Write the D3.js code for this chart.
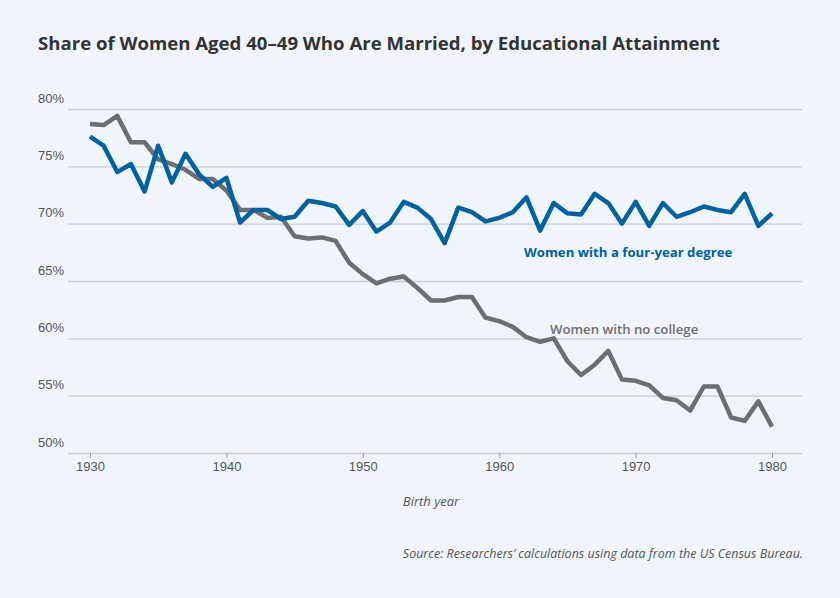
<!DOCTYPE html><html><head><meta charset="utf-8">
<script src="https://cdn.jsdelivr.net/npm/d3@7"></script>
<style>body{margin:0;background:#eff5fb}svg{font-family:"Source Sans Pro","Open Sans",Lato,sans-serif}</style></head><body>
<svg id="c" width="840" height="598"></svg>
<script>
const years = d3.range(1930, 1981);
const noCollege = [78.7,78.6,79.4,77.1,77.1,75.6,75.2,74.7,73.9,73.9,72.9,71.2,71.2,70.5,70.6,68.9,68.7,68.8,68.5,66.6,65.6,64.8,65.2,65.4,64.4,63.3,63.3,63.6,63.6,61.8,61.5,61.0,60.1,59.7,60.0,58.0,56.8,57.7,58.9,56.4,56.3,55.9,54.8,54.6,53.7,55.8,55.8,53.1,52.8,54.5,52.3];
const fourYear = [77.6,76.8,74.5,75.2,72.8,76.8,73.6,76.1,74.3,73.2,74.0,70.1,71.2,71.2,70.4,70.6,72.0,71.8,71.5,69.9,71.1,69.3,70.1,71.9,71.4,70.4,68.3,71.4,71.0,70.2,70.5,71.0,72.3,69.4,71.8,70.9,70.8,72.6,71.8,70.0,71.9,69.8,71.8,70.6,71.0,71.5,71.2,71.0,72.6,69.8,70.9];
const yTicks = [50,55,60,65,70,75,80];
const xTicks = [1930,1940,1950,1960,1970,1980];

const svg = d3.select("#c");
const x = d3.scaleLinear().domain([1930,1980]).range([90,772]);
const y = d3.scaleLinear().domain([50,80]).range([453,109]);

svg.append("text").attr("x",38).attr("y",50).attr("font-size",18.6).attr("font-weight",700).attr("fill","#333")
  .text("Share of Women Aged 40–49 Who Are Married, by Educational Attainment");

const yAxis = svg.append("g").attr("transform","translate(802,0)")
  .call(d3.axisLeft(y).tickValues(yTicks).tickSize(802-68).tickFormat(d=>d+"%"));
yAxis.select(".domain").remove();
yAxis.selectAll(".tick line").attr("stroke","#c9ccd0").attr("stroke-width",1.3);
yAxis.selectAll(".tick text").attr("x",-802+38).attr("dy",-7).attr("text-anchor","start").attr("font-size",13).attr("fill","#555");

const xAxis = svg.append("g").attr("transform","translate(0,453)")
  .call(d3.axisBottom(x).tickValues(xTicks).tickFormat(d3.format("d")).tickSize(5));
xAxis.select(".domain").remove();
xAxis.selectAll(".tick line").attr("stroke","#999");
xAxis.selectAll(".tick text").attr("font-size",13).attr("fill","#555").attr("dy","0.8em");

svg.append("text").attr("x",431).attr("y",506).attr("text-anchor","middle").attr("font-size",13).attr("font-style","italic").attr("fill","#555").text("Birth year");

const line = d3.line().x((d,i)=>x(years[i])).y(d=>y(d));
svg.append("path").datum(noCollege).attr("d",line).attr("fill","none").attr("stroke","#6d6e71").attr("stroke-width",4.5).attr("stroke-linejoin","round");
svg.append("path").datum(fourYear).attr("d",line).attr("fill","none").attr("stroke","#0062a0").attr("stroke-width",4.5).attr("stroke-linejoin","round");

svg.append("text").attr("x",524).attr("y",257).attr("font-size",13.2).attr("font-weight",700).attr("fill","#0062a0").text("Women with a four-year degree");
svg.append("text").attr("x",550).attr("y",334).attr("font-size",13.2).attr("font-weight",600).attr("fill","#6d6e71").text("Women with no college");

svg.append("text").attr("x",803).attr("y",558).attr("text-anchor","end").attr("font-size",12.5).attr("font-style","italic").attr("fill","#555")
  .text("Source: Researchers’ calculations using data from the US Census Bureau.");
</script></body></html>
